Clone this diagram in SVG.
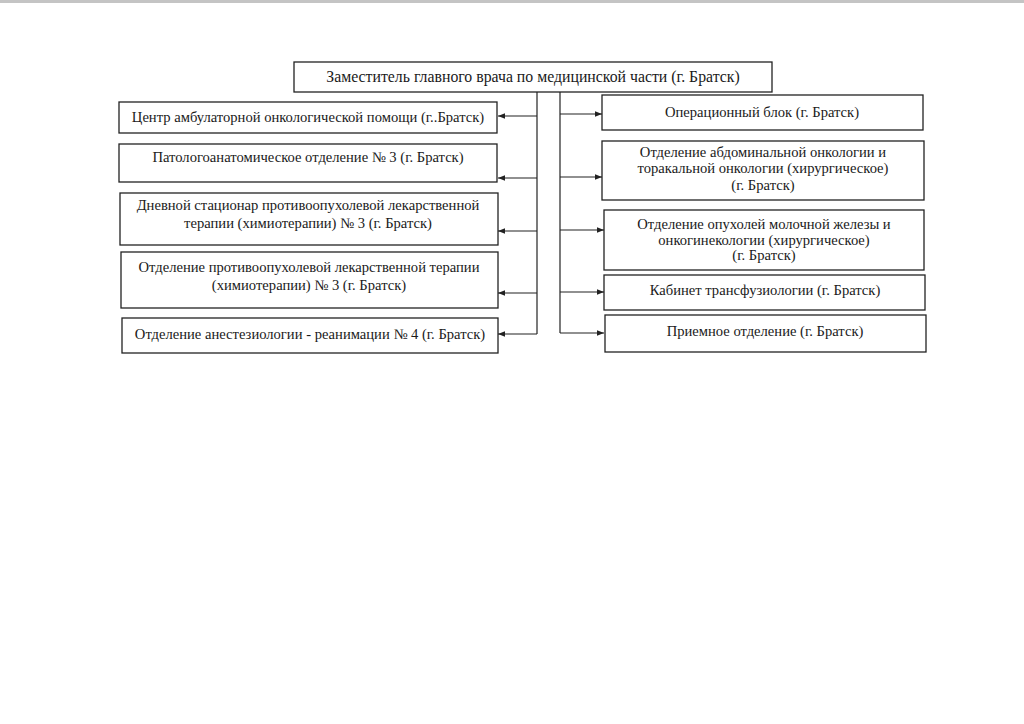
<svg xmlns="http://www.w3.org/2000/svg" width="1024" height="724" viewBox="0 0 1024 724">
<defs>
<style>
.box{fill:#fff;stroke:#222;stroke-width:1.3}
.t{font-family:"Liberation Serif","Times New Roman",serif;font-size:14.6px;fill:#1a1a1a;text-anchor:middle}
.big{font-size:15.8px}
.c{fill:none;stroke:#222;stroke-width:1.2}
</style>
<marker id="ah" viewBox="0 0 10 10" refX="10" refY="5" markerWidth="7" markerHeight="7" markerUnits="userSpaceOnUse" orient="auto">
<path d="M0,1 L10,5 L0,9 Z" fill="#222"/>
</marker>
</defs>
<rect x="0" y="0" width="1024" height="724" fill="#fff"/>
<rect x="0" y="0" width="1024" height="3" fill="#c4c4c4"/>
<g id="connectors">
<path class="c" d="M537,92 V334"/>
<path class="c" d="M560,92 V333"/>
<path class="c" d="M537,116 H498" marker-end="url(#ah)"/>
<path class="c" d="M537,178 H498" marker-end="url(#ah)"/>
<path class="c" d="M537,231 H498" marker-end="url(#ah)"/>
<path class="c" d="M537,293 H498" marker-end="url(#ah)"/>
<path class="c" d="M537,334 H498" marker-end="url(#ah)"/>
<path class="c" d="M560,114 H602" marker-end="url(#ah)"/>
<path class="c" d="M560,177 H602" marker-end="url(#ah)"/>
<path class="c" d="M560,230 H604" marker-end="url(#ah)"/>
<path class="c" d="M560,292 H604" marker-end="url(#ah)"/>
<path class="c" d="M560,333 H604" marker-end="url(#ah)"/>
</g>
<g id="top">
<rect class="box" x="294" y="62" width="478" height="30"/>
<text class="t big" x="533" y="82">Заместитель главного врача по медицинской части (г. Братск)</text>
</g>
<g id="l1">
<rect class="box" x="119" y="102" width="378" height="31"/>
<text class="t" x="308" y="122">Центр амбулаторной онкологической помощи (г..Братск)</text>
</g>
<g id="l2">
<rect class="box" x="119" y="144" width="378" height="38"/>
<text class="t" x="308" y="162">Патологоанатомическое отделение № 3 (г. Братск)</text>
</g>
<g id="l3">
<rect class="box" x="120" y="193" width="378" height="52"/>
<text class="t" x="308" y="210">Дневной стационар противоопухолевой лекарственной</text>
<text class="t" x="308" y="228">терапии (химиотерапии) № 3 (г. Братск)</text>
</g>
<g id="l4">
<rect class="box" x="121" y="252" width="377" height="56"/>
<text class="t" x="309" y="272">Отделение противоопухолевой лекарственной терапии</text>
<text class="t" x="309" y="290">(химиотерапии) № 3 (г. Братск)</text>
</g>
<g id="l5">
<rect class="box" x="122" y="318" width="376" height="35"/>
<text class="t" x="310" y="339">Отделение анестезиологии - реанимации № 4 (г. Братск)</text>
</g>
<g id="r1">
<rect class="box" x="602" y="95" width="321" height="35"/>
<text class="t" x="762" y="117">Операционный блок (г. Братск)</text>
</g>
<g id="r2">
<rect class="box" x="602" y="141" width="322" height="59"/>
<text class="t" x="763" y="157">Отделение абдоминальной онкологии и</text>
<text class="t" x="763" y="173">торакальной онкологии (хирургическое)</text>
<text class="t" x="763" y="190">(г. Братск)</text>
</g>
<g id="r3">
<rect class="box" x="604" y="210" width="320" height="60"/>
<text class="t" x="764" y="229">Отделение опухолей молочной железы и</text>
<text class="t" x="764" y="245">онкогинекологии (хирургическое)</text>
<text class="t" x="764" y="260">(г. Братск)</text>
</g>
<g id="r4">
<rect class="box" x="604" y="275" width="321" height="35"/>
<text class="t" x="765" y="295">Кабинет трансфузиологии (г. Братск)</text>
</g>
<g id="r5">
<rect class="box" x="605" y="315" width="321" height="37"/>
<text class="t" x="765" y="336">Приемное отделение (г. Братск)</text>
</g>
</svg>
